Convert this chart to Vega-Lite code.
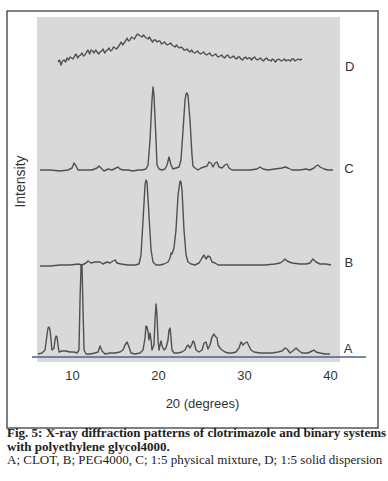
{
  "$schema": "https://vega.github.io/schema/vega-lite/v6.json",
  "width": 371,
  "height": 417,
  "autosize": {"type": "none"},
  "padding": {"left": 7, "top": 11, "right": 10, "bottom": 53},
  "background": "white",
  "config": {"view": {"stroke": "#555555", "strokeWidth": 1.5}},
  "title": {
    "text": ["Fig. 5: X-ray diffraction patterns of clotrimazole and binary systems", "with polyethylene glycol4000."],
    "subtitle": "A; CLOT, B; PEG4000, C; 1:5 physical mixture, D; 1:5 solid dispersion",
    "orient": "bottom", "anchor": "start", "frame": "group",
    "font": "Liberation Serif", "fontSize": 13, "fontWeight": "bold", "lineHeight": 13.5, "color": "#222222",
    "subtitleFont": "Liberation Serif", "subtitleFontSize": 13, "subtitleFontWeight": "normal", "subtitleLineHeight": 13.5, "subtitleColor": "#222222", "subtitlePadding": 0.5,
    "offset": -1
  },
  "datasets": {
    "panel": [{"t": 5.93, "t2": 41.16, "i": 66, "i2": 411}],
    "base": [{"t": 5.35, "i": 71}, {"t": 44.19, "i": 71}],
    "labels": [
      {"s": "A", "t": 42.1, "i": 79},
      {"s": "B", "t": 42.2, "i": 165},
      {"s": "C", "t": 42.2, "i": 259},
      {"s": "D", "t": 42.3, "i": 361}
    ],
    "traces": [
      {"s":"D","t":8.37,"i":366},{"s":"D","t":8.55,"i":368},{"s":"D","t":8.72,"i":363},{"s":"D","t":8.9,"i":367},{"s":"D","t":9.07,"i":368},{"s":"D","t":9.25,"i":366},{"s":"D","t":9.42,"i":370},{"s":"D","t":9.6,"i":368},{"s":"D","t":9.77,"i":371},{"s":"D","t":9.95,"i":370},{"s":"D","t":10.12,"i":369},{"s":"D","t":10.3,"i":372},{"s":"D","t":10.47,"i":374},{"s":"D","t":10.65,"i":370},{"s":"D","t":10.81,"i":372},{"s":"D","t":11.0,"i":373},{"s":"D","t":11.16,"i":375},{"s":"D","t":11.33,"i":372},{"s":"D","t":11.51,"i":373},{"s":"D","t":11.7,"i":376},{"s":"D","t":11.86,"i":378},{"s":"D","t":12.05,"i":374},{"s":"D","t":12.21,"i":378},{"s":"D","t":12.4,"i":377},{"s":"D","t":12.56,"i":375},{"s":"D","t":12.75,"i":378},{"s":"D","t":12.91,"i":376},{"s":"D","t":13.1,"i":374},{"s":"D","t":13.26,"i":376},{"s":"D","t":13.45,"i":377},{"s":"D","t":13.6,"i":379},{"s":"D","t":13.8,"i":375},{"s":"D","t":13.95,"i":377},{"s":"D","t":14.12,"i":378},{"s":"D","t":14.3,"i":380},{"s":"D","t":14.48,"i":377},{"s":"D","t":14.65,"i":378},{"s":"D","t":14.82,"i":381},{"s":"D","t":15.0,"i":380},{"s":"D","t":15.18,"i":379},{"s":"D","t":15.35,"i":381},{"s":"D","t":15.52,"i":383},{"s":"D","t":15.7,"i":386},{"s":"D","t":15.88,"i":383},{"s":"D","t":16.05,"i":385},{"s":"D","t":16.22,"i":387},{"s":"D","t":16.4,"i":390},{"s":"D","t":16.57,"i":387},{"s":"D","t":16.74,"i":388},{"s":"D","t":16.92,"i":391},{"s":"D","t":17.09,"i":390},{"s":"D","t":17.27,"i":389},{"s":"D","t":17.44,"i":392},{"s":"D","t":17.62,"i":394},{"s":"D","t":17.79,"i":393},{"s":"D","t":17.96,"i":392},{"s":"D","t":18.14,"i":391},{"s":"D","t":18.31,"i":393},{"s":"D","t":18.49,"i":391},{"s":"D","t":18.66,"i":390},{"s":"D","t":18.84,"i":389},{"s":"D","t":19.01,"i":391},{"s":"D","t":19.19,"i":388},{"s":"D","t":19.36,"i":386},{"s":"D","t":19.53,"i":388},{"s":"D","t":19.7,"i":388},{"s":"D","t":19.88,"i":386},{"s":"D","t":20.05,"i":387},{"s":"D","t":20.23,"i":387},{"s":"D","t":20.4,"i":384},{"s":"D","t":20.58,"i":385},{"s":"D","t":20.75,"i":386},{"s":"D","t":20.93,"i":384},{"s":"D","t":21.1,"i":383},{"s":"D","t":21.28,"i":384},{"s":"D","t":21.45,"i":385},{"s":"D","t":21.63,"i":383},{"s":"D","t":21.8,"i":382},{"s":"D","t":21.98,"i":381},{"s":"D","t":22.15,"i":383},{"s":"D","t":22.33,"i":381},{"s":"D","t":22.5,"i":380},{"s":"D","t":22.67,"i":381},{"s":"D","t":22.85,"i":380},{"s":"D","t":23.02,"i":378},{"s":"D","t":23.2,"i":378},{"s":"D","t":23.37,"i":379},{"s":"D","t":23.55,"i":377},{"s":"D","t":23.72,"i":376},{"s":"D","t":23.9,"i":378},{"s":"D","t":24.07,"i":376},{"s":"D","t":24.25,"i":375},{"s":"D","t":24.42,"i":376},{"s":"D","t":24.6,"i":377},{"s":"D","t":24.77,"i":375},{"s":"D","t":24.95,"i":374},{"s":"D","t":25.12,"i":375},{"s":"D","t":25.3,"i":376},{"s":"D","t":25.47,"i":374},{"s":"D","t":25.65,"i":373},{"s":"D","t":25.81,"i":374},{"s":"D","t":26.0,"i":375},{"s":"D","t":26.16,"i":373},{"s":"D","t":26.33,"i":372},{"s":"D","t":26.51,"i":373},{"s":"D","t":26.7,"i":374},{"s":"D","t":26.86,"i":372},{"s":"D","t":27.03,"i":371},{"s":"D","t":27.21,"i":372},{"s":"D","t":27.4,"i":373},{"s":"D","t":27.56,"i":371},{"s":"D","t":27.74,"i":370},{"s":"D","t":27.91,"i":372},{"s":"D","t":28.1,"i":373},{"s":"D","t":28.26,"i":371},{"s":"D","t":28.43,"i":370},{"s":"D","t":28.6,"i":371},{"s":"D","t":28.78,"i":372},{"s":"D","t":28.95,"i":370},{"s":"D","t":29.13,"i":369},{"s":"D","t":29.3,"i":371},{"s":"D","t":29.48,"i":371},{"s":"D","t":29.65,"i":369},{"s":"D","t":29.83,"i":368},{"s":"D","t":30.0,"i":370},{"s":"D","t":30.18,"i":371},{"s":"D","t":30.35,"i":369},{"s":"D","t":30.52,"i":370},{"s":"D","t":30.7,"i":370},{"s":"D","t":30.87,"i":368},{"s":"D","t":31.05,"i":370},{"s":"D","t":31.22,"i":371},{"s":"D","t":31.4,"i":369},{"s":"D","t":31.57,"i":368},{"s":"D","t":31.74,"i":369},{"s":"D","t":31.92,"i":370},{"s":"D","t":32.09,"i":368},{"s":"D","t":32.27,"i":367},{"s":"D","t":32.44,"i":369},{"s":"D","t":32.62,"i":370},{"s":"D","t":32.79,"i":368},{"s":"D","t":32.97,"i":368},{"s":"D","t":33.14,"i":367},{"s":"D","t":33.31,"i":369},{"s":"D","t":33.49,"i":368},{"s":"D","t":33.66,"i":366},{"s":"D","t":33.84,"i":368},{"s":"D","t":34.01,"i":369},{"s":"D","t":34.19,"i":368},{"s":"D","t":34.36,"i":367},{"s":"D","t":34.53,"i":368},{"s":"D","t":34.7,"i":369},{"s":"D","t":34.88,"i":367},{"s":"D","t":35.05,"i":368},{"s":"D","t":35.23,"i":368},{"s":"D","t":35.4,"i":367},{"s":"D","t":35.58,"i":369},{"s":"D","t":35.75,"i":369},{"s":"D","t":35.93,"i":367},{"s":"D","t":36.1,"i":368},{"s":"D","t":36.28,"i":369},{"s":"D","t":36.5,"i":368},{"s":"D","t":36.74,"i":369},
      {"s":"C","t":6.28,"i":258},{"s":"C","t":7.44,"i":258},{"s":"C","t":8.6,"i":257},{"s":"C","t":9.53,"i":258},{"s":"C","t":10.0,"i":260},{"s":"C","t":10.23,"i":265},{"s":"C","t":10.47,"i":262},{"s":"C","t":10.7,"i":258},{"s":"C","t":11.51,"i":258},{"s":"C","t":12.33,"i":258},{"s":"C","t":12.91,"i":260},{"s":"C","t":13.14,"i":262},{"s":"C","t":13.37,"i":260},{"s":"C","t":13.72,"i":257},{"s":"C","t":14.19,"i":259},{"s":"C","t":14.65,"i":258},{"s":"C","t":15.12,"i":260},{"s":"C","t":15.35,"i":261},{"s":"C","t":15.58,"i":259},{"s":"C","t":15.93,"i":258},{"s":"C","t":16.51,"i":258},{"s":"C","t":17.09,"i":257},{"s":"C","t":17.67,"i":258},{"s":"C","t":18.14,"i":258},{"s":"C","t":18.6,"i":259},{"s":"C","t":18.84,"i":263},{"s":"C","t":19.07,"i":288},{"s":"C","t":19.3,"i":328},{"s":"C","t":19.42,"i":341},{"s":"C","t":19.53,"i":333},{"s":"C","t":19.77,"i":288},{"s":"C","t":19.88,"i":263},{"s":"C","t":20.12,"i":259},{"s":"C","t":20.47,"i":258},{"s":"C","t":20.81,"i":259},{"s":"C","t":21.05,"i":263},{"s":"C","t":21.28,"i":271},{"s":"C","t":21.51,"i":263},{"s":"C","t":21.74,"i":259},{"s":"C","t":22.09,"i":260},{"s":"C","t":22.44,"i":261},{"s":"C","t":22.67,"i":268},{"s":"C","t":22.91,"i":298},{"s":"C","t":23.14,"i":328},{"s":"C","t":23.26,"i":334},{"s":"C","t":23.37,"i":335},{"s":"C","t":23.49,"i":332},{"s":"C","t":23.72,"i":308},{"s":"C","t":23.95,"i":273},{"s":"C","t":24.07,"i":262},{"s":"C","t":24.3,"i":260},{"s":"C","t":24.65,"i":258},{"s":"C","t":25.0,"i":260},{"s":"C","t":25.35,"i":261},{"s":"C","t":25.7,"i":262},{"s":"C","t":25.93,"i":266},{"s":"C","t":26.16,"i":265},{"s":"C","t":26.4,"i":261},{"s":"C","t":26.63,"i":265},{"s":"C","t":26.86,"i":266},{"s":"C","t":27.09,"i":261},{"s":"C","t":27.44,"i":260},{"s":"C","t":27.79,"i":263},{"s":"C","t":28.02,"i":264},{"s":"C","t":28.26,"i":260},{"s":"C","t":28.6,"i":258},{"s":"C","t":29.53,"i":258},{"s":"C","t":30.7,"i":258},{"s":"C","t":31.51,"i":259},{"s":"C","t":31.86,"i":261},{"s":"C","t":32.21,"i":259},{"s":"C","t":32.79,"i":258},{"s":"C","t":33.6,"i":259},{"s":"C","t":34.42,"i":260},{"s":"C","t":34.77,"i":261},{"s":"C","t":35.12,"i":260},{"s":"C","t":35.58,"i":258},{"s":"C","t":36.51,"i":258},{"s":"C","t":37.21,"i":259},{"s":"C","t":37.67,"i":258},{"s":"C","t":38.14,"i":260},{"s":"C","t":38.37,"i":262},{"s":"C","t":38.6,"i":263},{"s":"C","t":38.84,"i":261},{"s":"C","t":39.3,"i":259},{"s":"C","t":39.77,"i":258},{"s":"C","t":40.35,"i":258},
      {"s":"B","t":6.28,"i":162},{"s":"B","t":7.44,"i":162},{"s":"B","t":8.6,"i":163},{"s":"B","t":9.77,"i":163},{"s":"B","t":10.7,"i":164},{"s":"B","t":11.16,"i":163},{"s":"B","t":11.63,"i":165},{"s":"B","t":11.86,"i":167},{"s":"B","t":12.21,"i":165},{"s":"B","t":12.67,"i":166},{"s":"B","t":13.26,"i":166},{"s":"B","t":13.6,"i":164},{"s":"B","t":14.07,"i":166},{"s":"B","t":14.42,"i":165},{"s":"B","t":14.77,"i":167},{"s":"B","t":15.0,"i":168},{"s":"B","t":15.23,"i":165},{"s":"B","t":15.7,"i":164},{"s":"B","t":16.51,"i":163},{"s":"B","t":17.33,"i":163},{"s":"B","t":17.79,"i":164},{"s":"B","t":18.02,"i":173},{"s":"B","t":18.26,"i":208},{"s":"B","t":18.49,"i":243},{"s":"B","t":18.6,"i":248},{"s":"B","t":18.72,"i":246},{"s":"B","t":18.95,"i":213},{"s":"B","t":19.19,"i":178},{"s":"B","t":19.42,"i":166},{"s":"B","t":19.77,"i":163},{"s":"B","t":20.23,"i":163},{"s":"B","t":20.7,"i":164},{"s":"B","t":21.16,"i":166},{"s":"B","t":21.4,"i":170},{"s":"B","t":21.51,"i":175},{"s":"B","t":21.63,"i":174},{"s":"B","t":21.86,"i":180},{"s":"B","t":22.09,"i":198},{"s":"B","t":22.33,"i":233},{"s":"B","t":22.56,"i":247},{"s":"B","t":22.67,"i":246},{"s":"B","t":22.79,"i":238},{"s":"B","t":23.02,"i":198},{"s":"B","t":23.26,"i":173},{"s":"B","t":23.49,"i":166},{"s":"B","t":23.84,"i":164},{"s":"B","t":24.3,"i":163},{"s":"B","t":24.77,"i":165},{"s":"B","t":25.12,"i":170},{"s":"B","t":25.35,"i":173},{"s":"B","t":25.58,"i":169},{"s":"B","t":25.81,"i":172},{"s":"B","t":26.05,"i":171},{"s":"B","t":26.28,"i":166},{"s":"B","t":26.63,"i":165},{"s":"B","t":26.98,"i":163},{"s":"B","t":27.79,"i":163},{"s":"B","t":28.95,"i":163},{"s":"B","t":30.12,"i":163},{"s":"B","t":31.28,"i":163},{"s":"B","t":32.44,"i":163},{"s":"B","t":33.6,"i":164},{"s":"B","t":34.19,"i":165},{"s":"B","t":34.53,"i":167},{"s":"B","t":34.77,"i":169},{"s":"B","t":35.0,"i":167},{"s":"B","t":35.58,"i":165},{"s":"B","t":36.51,"i":164},{"s":"B","t":37.21,"i":164},{"s":"B","t":37.67,"i":165},{"s":"B","t":38.02,"i":169},{"s":"B","t":38.37,"i":166},{"s":"B","t":38.84,"i":164},{"s":"B","t":39.53,"i":164},{"s":"B","t":40.12,"i":163},
      {"s":"A","t":6.05,"i":74},{"s":"A","t":6.51,"i":75},{"s":"A","t":6.86,"i":78},{"s":"A","t":7.09,"i":93},{"s":"A","t":7.21,"i":100},{"s":"A","t":7.33,"i":101},{"s":"A","t":7.44,"i":98},{"s":"A","t":7.56,"i":88},{"s":"A","t":7.67,"i":78},{"s":"A","t":7.91,"i":80},{"s":"A","t":8.02,"i":88},{"s":"A","t":8.14,"i":92},{"s":"A","t":8.26,"i":91},{"s":"A","t":8.37,"i":83},{"s":"A","t":8.49,"i":76},{"s":"A","t":8.84,"i":77},{"s":"A","t":9.3,"i":77},{"s":"A","t":9.77,"i":76},{"s":"A","t":10.23,"i":76},{"s":"A","t":10.58,"i":75},{"s":"A","t":10.81,"i":78},{"s":"A","t":10.93,"i":128},{"s":"A","t":11.05,"i":163},{"s":"A","t":11.16,"i":163},{"s":"A","t":11.28,"i":118},{"s":"A","t":11.4,"i":78},{"s":"A","t":11.63,"i":74},{"s":"A","t":12.09,"i":74},{"s":"A","t":12.67,"i":75},{"s":"A","t":13.02,"i":76},{"s":"A","t":13.26,"i":82},{"s":"A","t":13.49,"i":77},{"s":"A","t":13.84,"i":74},{"s":"A","t":14.42,"i":75},{"s":"A","t":15.0,"i":75},{"s":"A","t":15.58,"i":76},{"s":"A","t":15.93,"i":78},{"s":"A","t":16.16,"i":83},{"s":"A","t":16.4,"i":86},{"s":"A","t":16.63,"i":81},{"s":"A","t":16.86,"i":75},{"s":"A","t":17.33,"i":74},{"s":"A","t":17.91,"i":75},{"s":"A","t":18.26,"i":78},{"s":"A","t":18.49,"i":90},{"s":"A","t":18.6,"i":102},{"s":"A","t":18.72,"i":101},{"s":"A","t":18.84,"i":96},{"s":"A","t":18.95,"i":88},{"s":"A","t":19.07,"i":95},{"s":"A","t":19.19,"i":88},{"s":"A","t":19.3,"i":78},{"s":"A","t":19.53,"i":83},{"s":"A","t":19.65,"i":108},{"s":"A","t":19.77,"i":124},{"s":"A","t":19.88,"i":113},{"s":"A","t":20.0,"i":88},{"s":"A","t":20.12,"i":78},{"s":"A","t":20.23,"i":83},{"s":"A","t":20.35,"i":87},{"s":"A","t":20.47,"i":82},{"s":"A","t":20.7,"i":78},{"s":"A","t":20.93,"i":80},{"s":"A","t":21.16,"i":88},{"s":"A","t":21.28,"i":98},{"s":"A","t":21.4,"i":100},{"s":"A","t":21.51,"i":90},{"s":"A","t":21.63,"i":78},{"s":"A","t":21.86,"i":75},{"s":"A","t":22.33,"i":75},{"s":"A","t":22.79,"i":76},{"s":"A","t":23.14,"i":78},{"s":"A","t":23.37,"i":82},{"s":"A","t":23.49,"i":83},{"s":"A","t":23.72,"i":80},{"s":"A","t":23.95,"i":84},{"s":"A","t":24.07,"i":87},{"s":"A","t":24.19,"i":86},{"s":"A","t":24.42,"i":78},{"s":"A","t":24.77,"i":76},{"s":"A","t":25.12,"i":78},{"s":"A","t":25.35,"i":85},{"s":"A","t":25.58,"i":86},{"s":"A","t":25.81,"i":79},{"s":"A","t":26.05,"i":83},{"s":"A","t":26.28,"i":91},{"s":"A","t":26.51,"i":94},{"s":"A","t":26.63,"i":92},{"s":"A","t":26.86,"i":90},{"s":"A","t":26.98,"i":83},{"s":"A","t":27.21,"i":80},{"s":"A","t":27.44,"i":78},{"s":"A","t":27.79,"i":76},{"s":"A","t":28.14,"i":75},{"s":"A","t":28.6,"i":75},{"s":"A","t":29.07,"i":76},{"s":"A","t":29.42,"i":80},{"s":"A","t":29.65,"i":86},{"s":"A","t":29.88,"i":83},{"s":"A","t":30.12,"i":85},{"s":"A","t":30.35,"i":86},{"s":"A","t":30.58,"i":82},{"s":"A","t":30.81,"i":78},{"s":"A","t":31.16,"i":76},{"s":"A","t":31.86,"i":75},{"s":"A","t":32.56,"i":75},{"s":"A","t":33.26,"i":75},{"s":"A","t":33.95,"i":76},{"s":"A","t":34.42,"i":77},{"s":"A","t":34.77,"i":80},{"s":"A","t":35.0,"i":79},{"s":"A","t":35.35,"i":75},{"s":"A","t":35.81,"i":78},{"s":"A","t":36.05,"i":80},{"s":"A","t":36.28,"i":78},{"s":"A","t":36.74,"i":75},{"s":"A","t":37.44,"i":75},{"s":"A","t":37.91,"i":77},{"s":"A","t":38.14,"i":78},{"s":"A","t":38.37,"i":76},{"s":"A","t":38.84,"i":75},{"s":"A","t":39.42,"i":74},{"s":"A","t":40.0,"i":74}
    ]
  },
  "encoding": {
    "x": {
      "field": "t", "type": "quantitative",
      "scale": {"domain": [2.44, 45.58], "nice": false, "zero": false},
      "axis": {
        "values": [10, 20, 30, 40], "domain": false, "ticks": false, "grid": false,
        "offset": -61, "labelPadding": 2,
        "labelFont": "Liberation Sans", "labelFontSize": 13, "labelColor": "#333333",
        "title": "20 (degrees)", "titleFont": "Liberation Sans", "titleFontSize": 13, "titleFontWeight": "normal", "titleColor": "#333333",
        "titleX": 195, "titleY": 30, "titleAlign": "center", "titleBaseline": "top"
      }
    },
    "y": {
      "field": "i", "type": "quantitative",
      "scale": {"domain": [0, 417], "nice": false, "zero": false},
      "axis": {
        "labels": false, "ticks": false, "domain": false, "grid": false,
        "title": "Intensity", "titleFont": "Liberation Sans", "titleFontSize": 14, "titleFontWeight": "normal", "titleColor": "#333333",
        "titleX": 13, "titleY": 170, "titleAngle": -90, "titleAlign": "center", "titleBaseline": "middle"
      }
    }
  },
  "layer": [
    {
      "data": {"name": "panel"},
      "mark": {"type": "rect", "color": "#d9d9d9"},
      "encoding": {"x2": {"field": "t2"}, "y2": {"field": "i2"}}
    },
    {
      "data": {"name": "base"},
      "mark": {"type": "line", "color": "#4d5f91", "strokeWidth": 1.3},
      "encoding": {}
    },
    {
      "data": {"name": "traces"},
      "mark": {"type": "line", "color": "#505050", "strokeWidth": 1.4, "strokeJoin": "round"},
      "encoding": {"detail": {"field": "s"}}
    },
    {
      "data": {"name": "labels"},
      "mark": {"type": "text", "font": "Liberation Sans", "fontSize": 13, "color": "#333333", "align": "center", "baseline": "middle"},
      "encoding": {"text": {"field": "s"}}
    }
  ]
}
